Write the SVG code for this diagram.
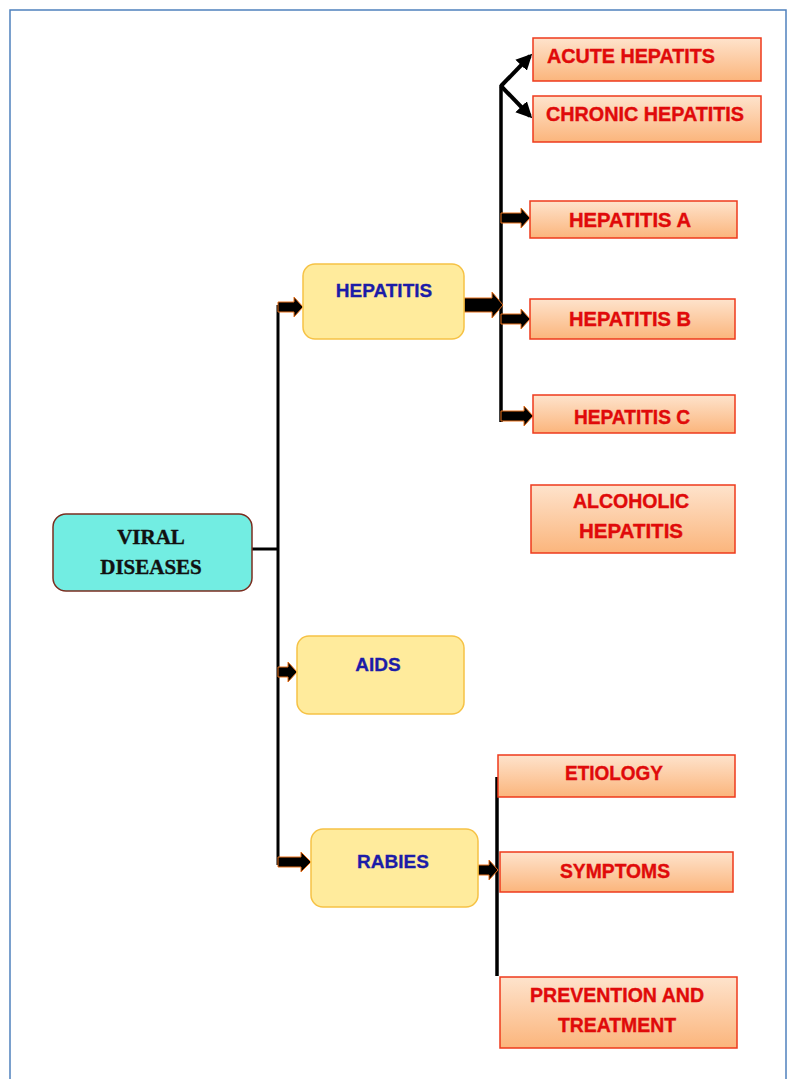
<svg xmlns="http://www.w3.org/2000/svg" width="795" height="1079" viewBox="0 0 795 1079">
<defs>
<linearGradient id="og" x1="0" y1="0" x2="0" y2="1">
<stop offset="0" stop-color="#FEE3CC"/>
<stop offset="1" stop-color="#FBB57C"/>
</linearGradient>
<marker id="ah" viewBox="0 0 10 10" refX="8" refY="5" markerWidth="4" markerHeight="4" orient="auto" markerUnits="strokeWidth">
<path d="M0,0 L10,5 L0,10 Z" fill="#000"/>
</marker>
<style>
.org rect{fill:url(#og);stroke:#EE3A1C;stroke-width:1.5}
.org text{font-family:"Liberation Sans",Arial,sans-serif;font-weight:bold;font-size:20px;fill:#E00A0A;text-anchor:middle;stroke:#E00A0A;stroke-width:0.4}
.yel rect{fill:#FFEB9C;stroke:#F6C245;stroke-width:1.5}
.yel text{font-family:"Liberation Sans",Arial,sans-serif;font-weight:bold;font-size:19px;fill:#1C1CA8;text-anchor:middle;stroke:#1C1CA8;stroke-width:0.3}
.arr{fill:#000;stroke:#E8701A;stroke-width:1}
.ln{stroke:#000;fill:none}
</style>
</defs>
<rect x="0" y="0" width="795" height="1079" fill="#fff"/>
<rect x="10" y="10" width="776" height="1090" fill="#fff" stroke="#4F81BD" stroke-width="1.5"/>

<g id="connectors">
<line class="ln" x1="252" y1="549" x2="278" y2="549" stroke-width="3"/>
<line class="ln" x1="278" y1="305" x2="278" y2="865" stroke-width="3"/>
<path class="arr" d="M278,302 L294,302 L294,297 L303,307 L294,317 L294,312 L278,312 Z"/>
<path class="arr" d="M278,667 L288,667 L288,662 L297,672 L288,682 L288,677 L278,677 Z"/>
<path class="arr" d="M278,857 L301,857 L301,852 L311,862 L301,872 L301,867 L278,867 Z"/>
<line class="ln" x1="501" y1="85" x2="501" y2="422" stroke-width="3.5"/>
<path class="arr" d="M464,298 L492,298 L492,292 L503,305 L492,318 L492,312 L464,312 Z"/>
<line class="ln" x1="501" y1="86" x2="530" y2="56" stroke-width="4" marker-end="url(#ah)"/>
<line class="ln" x1="501" y1="86" x2="530" y2="116" stroke-width="4" marker-end="url(#ah)"/>
<path class="arr" d="M501,213 L521,213 L521,208 L530,218 L521,228 L521,223 L501,223 Z"/>
<path class="arr" d="M501,314 L521,314 L521,309 L530,319 L521,329 L521,324 L501,324 Z"/>
<path class="arr" d="M501,411 L524,411 L524,406 L533,416 L524,426 L524,421 L501,421 Z"/>
<line class="ln" x1="497" y1="777" x2="497" y2="976" stroke-width="3.5"/>
<path class="arr" d="M478,865 L489,865 L489,860 L498,870 L489,880 L489,875 L478,875 Z"/>
</g>

<g id="viral-diseases">
<rect x="53" y="514" width="199" height="77" rx="13" fill="#72EDE2" stroke="#7A2E20" stroke-width="1.5"/>
<text x="151" y="544" font-family="Liberation Serif,Times New Roman,serif" font-weight="bold" font-size="21" text-anchor="middle" fill="#111" stroke="#111" stroke-width="0.4">VIRAL</text>
<text x="151" y="574" font-family="Liberation Serif,Times New Roman,serif" font-weight="bold" font-size="21" text-anchor="middle" fill="#111" stroke="#111" stroke-width="0.4">DISEASES</text>
</g>

<g id="hepatitis" class="yel">
<rect x="303" y="264" width="161" height="75" rx="12"/>
<text x="384" y="297">HEPATITIS</text>
</g>
<g id="aids" class="yel">
<rect x="297" y="636" width="167" height="78" rx="12"/>
<text x="378" y="671">AIDS</text>
</g>
<g id="rabies" class="yel">
<rect x="311" y="829" width="167" height="78" rx="12"/>
<text x="393" y="868">RABIES</text>
</g>

<g id="acute" class="org">
<rect x="533" y="38" width="228" height="43"/>
<text x="631" y="63" textLength="168" lengthAdjust="spacingAndGlyphs">ACUTE HEPATITS</text>
</g>
<g id="chronic" class="org">
<rect x="533" y="96" width="228" height="46"/>
<text x="645" y="121" textLength="198" lengthAdjust="spacingAndGlyphs">CHRONIC HEPATITIS</text>
</g>
<g id="hep-a" class="org">
<rect x="530" y="201" width="207" height="37"/>
<text x="630" y="227" textLength="122" lengthAdjust="spacingAndGlyphs">HEPATITIS A</text>
</g>
<g id="hep-b" class="org">
<rect x="530" y="299" width="205" height="40"/>
<text x="630" y="326" textLength="122" lengthAdjust="spacingAndGlyphs">HEPATITIS B</text>
</g>
<g id="hep-c" class="org">
<rect x="533" y="395" width="202" height="38"/>
<text x="632" y="424" textLength="116" lengthAdjust="spacingAndGlyphs">HEPATITIS C</text>
</g>
<g id="alcoholic" class="org">
<rect x="531" y="485" width="204" height="68"/>
<text x="631" y="508" textLength="116" lengthAdjust="spacingAndGlyphs">ALCOHOLIC</text>
<text x="631" y="538" textLength="104" lengthAdjust="spacingAndGlyphs">HEPATITIS</text>
</g>
<g id="etiology" class="org">
<rect x="498" y="755" width="237" height="42"/>
<text x="614" y="780" textLength="98" lengthAdjust="spacingAndGlyphs">ETIOLOGY</text>
</g>
<g id="symptoms" class="org">
<rect x="500" y="852" width="233" height="40"/>
<text x="615" y="878" textLength="110" lengthAdjust="spacingAndGlyphs">SYMPTOMS</text>
</g>
<g id="prevention" class="org">
<rect x="500" y="977" width="237" height="71"/>
<text x="617" y="1002" textLength="174" lengthAdjust="spacingAndGlyphs">PREVENTION AND</text>
<text x="617" y="1032" textLength="118" lengthAdjust="spacingAndGlyphs">TREATMENT</text>
</g>
</svg>
